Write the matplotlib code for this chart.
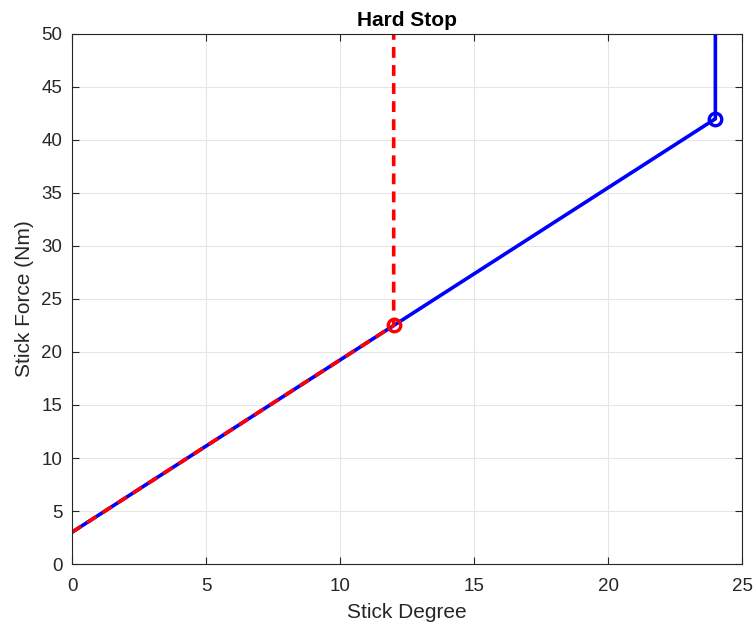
import numpy as np
import matplotlib
matplotlib.use('Agg')
import matplotlib.pyplot as plt

plt.rcParams['font.family'] = ['Liberation Sans', 'DejaVu Sans']

# blue: full travel, red: hard stop
blue_x = [0, 24, 24]
blue_y = [3, 42, 60]
red_x = [0, 12, 12]
red_y = [3, 22.5, 60]
blue_stop = (24, 42)
red_stop = (12, 22.5)

fig = plt.figure(figsize=(7.55, 6.34), dpi=100)
ax = fig.add_axes([0.0954, 0.1104, 0.8876, 0.836])

ax.plot(blue_x, blue_y, color='#0000ff', lw=2.6, solid_capstyle='butt')
ax.plot(red_x, red_y, color='#ff0000', lw=2.6, ls=(0, (3, 2)))
ax.plot(*blue_stop, 'o', mfc='none', mec='#0000ff', mew=2.4, ms=9)
ax.plot(*red_stop, 'o', mfc='none', mec='#ff0000', mew=2.4, ms=9)

ax.set_xlim(0, 25)
ax.set_ylim(0, 50)
ax.set_xticks(np.arange(0, 26, 5))
ax.set_yticks(np.arange(0, 51, 5))
ax.grid(True, color='#e6e6e6', lw=0.8)
ax.set_axisbelow(True)
ax.tick_params(direction='in', length=5, labelsize=13.5, colors='#262626',
               top=True, right=True, pad=7)
ax.tick_params(axis='x', pad=10)
for s in ax.spines.values():
    s.set_color('#262626')
    s.set_linewidth(0.8)

ax.set_xlabel('Stick Degree', fontsize=15, color='#262626', labelpad=6)
ax.set_ylabel('Stick Force (Nm)', fontsize=15, color='#262626', labelpad=5)
ax.set_title('Hard Stop', fontsize=15, fontweight='bold', pad=6)

fig.savefig('out.png', dpi=100)
